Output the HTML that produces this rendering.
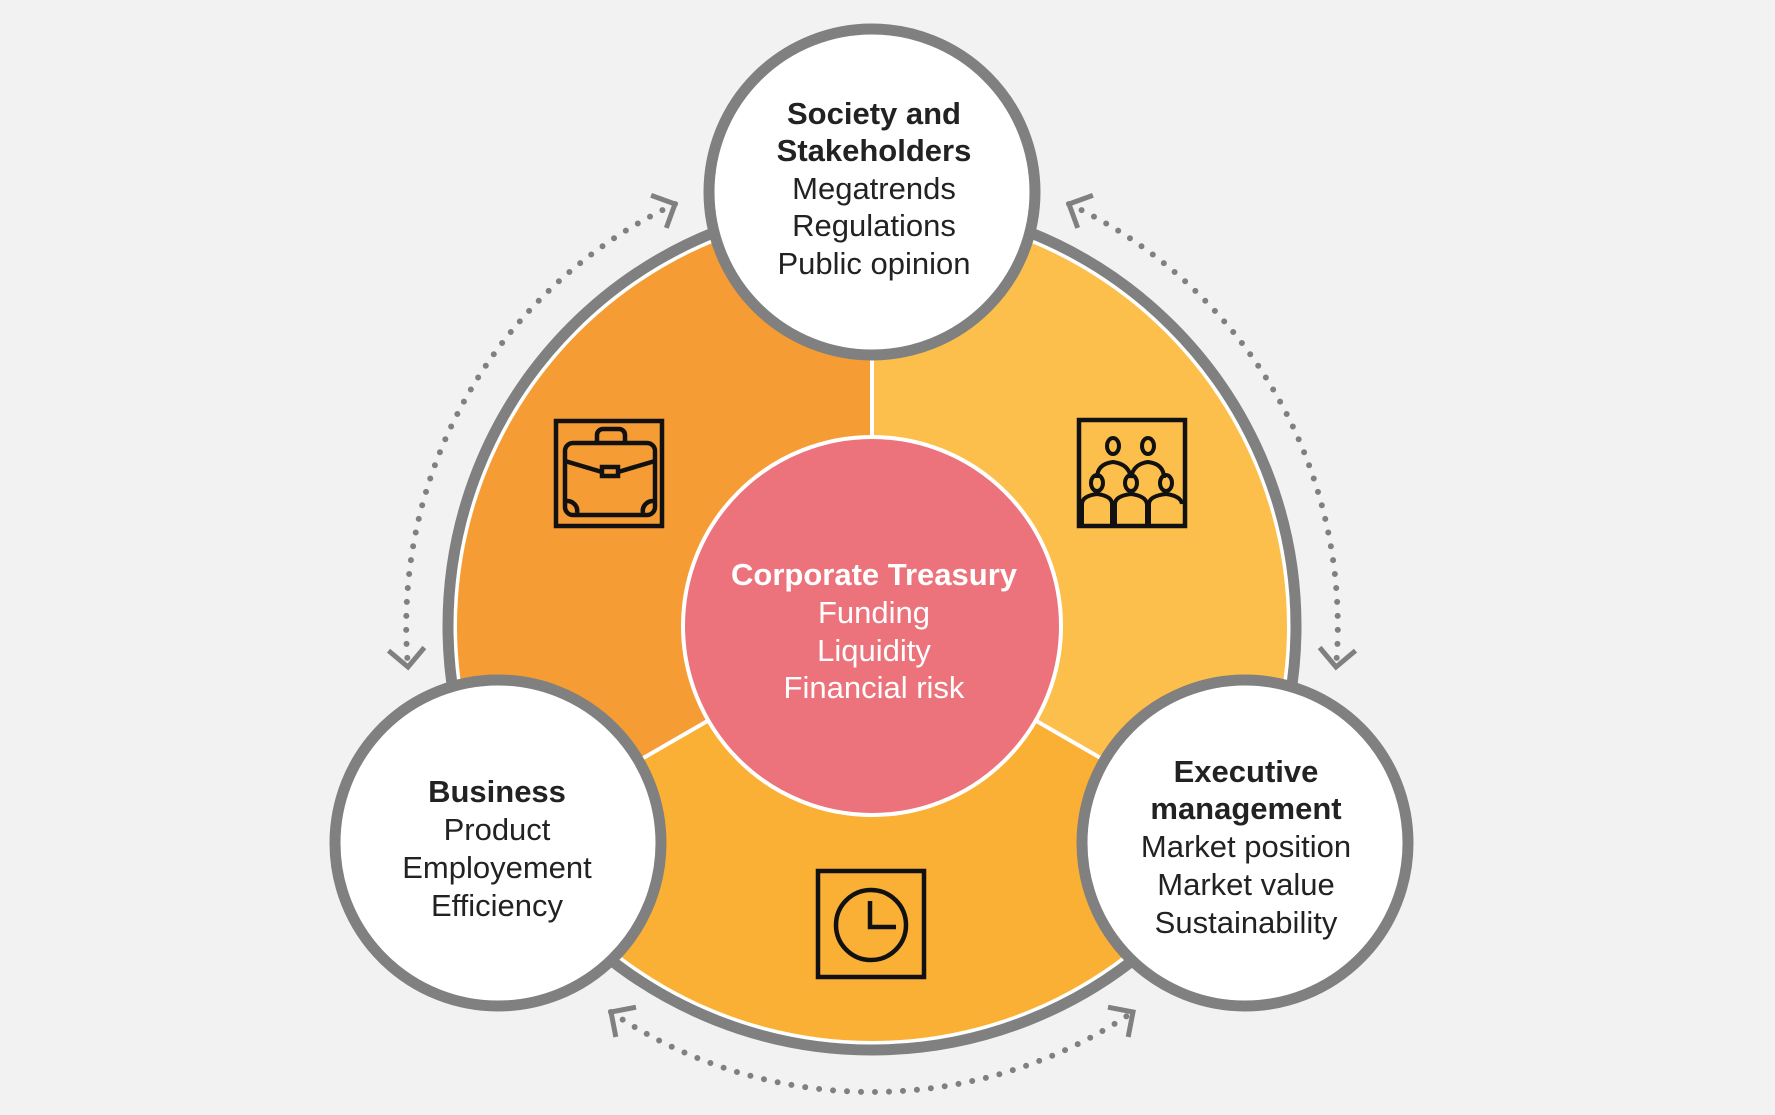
<!DOCTYPE html>
<html><head><meta charset="utf-8"><style>
html,body{margin:0;padding:0;background:#f2f2f2;}
svg{display:block;}
text{font-family:"Liberation Sans",Arial,sans-serif;font-size:31px;text-anchor:middle;}
.b{font-weight:bold;}
</style></head><body>
<svg width="1775" height="1115" viewBox="0 0 1775 1115" xmlns="http://www.w3.org/2000/svg">
<defs>
<marker id="ah" markerUnits="userSpaceOnUse" markerWidth="40" markerHeight="40" refX="20" refY="20" orient="auto-start-reverse" viewBox="0 0 40 40">
<path d="M2,2 L20,20 L2,38" fill="none" stroke="#808080" stroke-width="5"/>
</marker>
</defs>
<rect width="1775" height="1115" fill="#f2f2f2"/>
<g fill="none" stroke="#808080" stroke-width="6" stroke-linecap="round" stroke-dasharray="0 14">
<path d="M675,204 A466,466 0 0 0 408,667" marker-start="url(#ah)" marker-end="url(#ah)"/>
<path d="M1069,204 A466,466 0 0 1 1336,667" marker-start="url(#ah)" marker-end="url(#ah)"/>
<path d="M611,1012 A466,466 0 0 0 1133,1012" marker-start="url(#ah)" marker-end="url(#ah)"/>
</g>
<circle cx="872" cy="626" r="424" fill="#fff" stroke="#808080" stroke-width="11"/>
<path d="M872,626 L872,211 A415,415 0 0 0 512.6,833.5 Z" fill="#F59C34"/>
<path d="M872,626 L872,211 A415,415 0 0 1 1231.4,833.5 Z" fill="#FDBF4C"/>
<path d="M872,626 L1231.4,833.5 A415,415 0 0 1 512.6,833.5 Z" fill="#FAB035"/>
<g stroke="#fff" stroke-width="4">
<line x1="872" y1="626" x2="872" y2="211"/>
<line x1="872" y1="626" x2="512.6" y2="833.5"/>
<line x1="872" y1="626" x2="1231.4" y2="833.5"/>
</g>
<circle cx="872" cy="626" r="189" fill="#EC737B" stroke="#fff" stroke-width="4"/>
<g fill="none" stroke="#111" stroke-width="4.5">
<rect x="556" y="421" width="106" height="105"/>
<rect x="565" y="443" width="90" height="72" rx="8"/>
<path d="M597,443 v-8 a6,6 0 0 1 6,-6 h16 a6,6 0 0 1 6,6 v8"/>
<path d="M565,461 L602,472 M655,461 L618,472"/>
<rect x="602" y="467" width="16" height="9"/>
<path d="M567,501 a10,10 0 0 1 10,12 M653,501 a10,10 0 0 0 -10,12"/>
<rect x="1079" y="420" width="106" height="106"/>
<rect x="818" y="871" width="106" height="106"/>
<circle cx="871" cy="925" r="35"/>
<path d="M870,901 v26 h26"/>
<g stroke-width="4">
<ellipse cx="1113" cy="446" rx="6" ry="8"/><ellipse cx="1148" cy="446" rx="6" ry="8"/>
<path d="M1097,478 q0,-14 16,-16 q16,2 18,16 M1131,478 q2,-14 17,-16 q16,2 16,16"/>
<ellipse cx="1097" cy="483" rx="6" ry="8"/><ellipse cx="1131" cy="483" rx="6" ry="8"/><ellipse cx="1166" cy="483" rx="6" ry="8"/>
<path d="M1082,524 v-20 q0,-8 15,-10 q15,2 15,10 v20 M1115,524 v-20 q0,-8 16,-10 q15,2 16,10 v20 M1149,524 v-20 q0,-8 17,-10 q15,2 16,10"/>
</g>
</g>
<g fill="#fff" stroke="#808080" stroke-width="11">
<circle cx="872" cy="192" r="163"/>
<circle cx="498" cy="843" r="163"/>
<circle cx="1245" cy="843" r="163"/>
</g>
<g fill="#222">
<text x="874" y="124" class="b">Society and</text>
<text x="874" y="161" class="b">Stakeholders</text>
<text x="874" y="199">Megatrends</text>
<text x="874" y="236">Regulations</text>
<text x="874" y="274">Public opinion</text>
<text x="497" y="802" class="b">Business</text>
<text x="497" y="840">Product</text>
<text x="497" y="878">Employement</text>
<text x="497" y="916">Efficiency</text>
<text x="1246" y="782" class="b">Executive</text>
<text x="1246" y="819" class="b">management</text>
<text x="1246" y="857">Market position</text>
<text x="1246" y="895">Market value</text>
<text x="1246" y="933">Sustainability</text>
</g>
<g fill="#fff">
<text x="874" y="585" class="b">Corporate Treasury</text>
<text x="874" y="623">Funding</text>
<text x="874" y="661">Liquidity</text>
<text x="874" y="698">Financial risk</text>
</g>
</svg>
</body></html>
